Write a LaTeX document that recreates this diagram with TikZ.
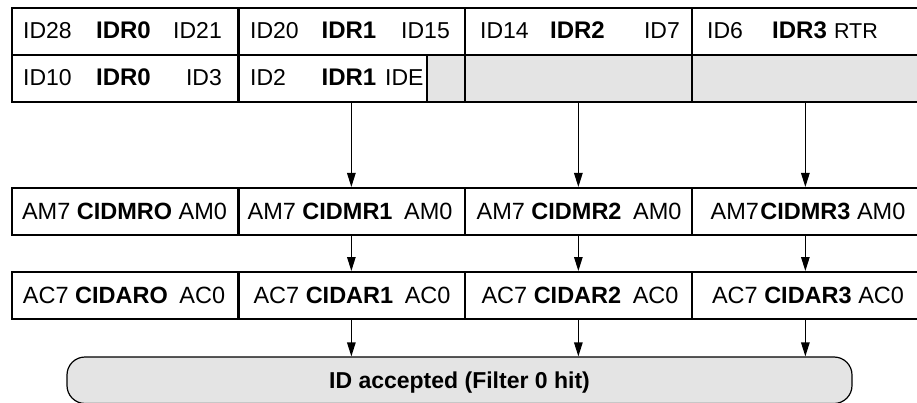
\documentclass[tikz,border=0pt]{standalone}
\usepackage{fontspec}
\setmainfont{Liberation Sans}
\usetikzlibrary{arrows.meta}
\definecolor{cellgrey}{HTML}{E4E4E4}
\begin{document}
\begin{tikzpicture}[x=1pt,y=-1pt,
  cell/.style={draw, line width=1.7pt, minimum width=227pt, minimum height=47pt, inner sep=0pt, anchor=north west},
  greycell/.style={cell, fill=cellgrey},
  txt/.style={inner sep=0pt, font=\fontsize{23}{27}\selectfont},
  btxt/.style={txt, font=\fontsize{24}{28}\selectfont\bfseries, anchor=base},
  ltxt/.style={txt, anchor=base west},
  rtxt/.style={txt, anchor=base east},
  rowtxt/.style={inner sep=0pt, anchor=base, font=\fontsize{23.5}{28}\selectfont},
  flow/.style={line width=1.2pt, -{Triangle[length=14pt,width=8.5pt]}},
  capsule/.style={draw, line width=1.2pt, fill=cellgrey, rounded corners=18pt, minimum width=785pt, minimum height=46.5pt, inner sep=0pt}
]
\useasboundingbox (0,0) rectangle (917,403);

% --- ID register table ---
\node[cell] (r1c1) at (11,7) {};
\node[cell] (r1c2) at (237,7) {};
\node[cell] (r1c3) at (464,7) {};
\node[cell] (r1c4) at (691,7) {};
\node[cell] (r2c1) at (11,54) {};
\node[cell] (r2c2) at (237,54) {};
\node[greycell] (r2c3) at (464,54) {};
\node[greycell] (r2c4) at (691,54) {};

\node[ltxt] (t11a) at (23,38.5) {ID28};
\node[btxt] (t11b) at (123.5,38.5) {IDR0};
\node[rtxt] (t11c) at (222,38.5) {ID21};
\node[ltxt] (t12a) at (250,38.5) {ID20};
\node[btxt] (t12b) at (349,38.5) {IDR1};
\node[rtxt] (t12c) at (450,38.5) {ID15};
\node[ltxt] (t13a) at (480,38.5) {ID14};
\node[btxt] (t13b) at (577.5,38.5) {IDR2};
\node[rtxt] (t13c) at (680,38.5) {ID7};
\node[ltxt] (t14a) at (707,38.5) {ID6};
\node[btxt] (t14b) at (799.5,38.5) {IDR3};
\node[rtxt, font=\fontsize{21.5}{26}\selectfont] (t14c) at (878,38.5) {RTR};

\node[ltxt] (t21a) at (23,85.5) {ID10};
\node[btxt] (t21b) at (123.5,85.5) {IDR0};
\node[rtxt] (t21c) at (222,85.5) {ID3};
\node[ltxt] (t22a) at (250,85.5) {ID2};
\node[btxt] (t22b) at (349,85.5) {IDR1};
\node[ltxt] (t22c) at (385,85.5) {IDE};
\node[draw, line width=1.7pt, fill=cellgrey, minimum width=38pt, minimum height=47pt, inner sep=0pt, anchor=north west] (r2c2g) at (426,54) {};

% --- mask registers ---
\node[cell] (am1) at (11,187) {};
\node[cell] (am2) at (237,187) {};
\node[cell] (am3) at (464,187) {};
\node[cell] (am4) at (691,187) {};
\node[rowtxt] (m1) at (124.5,220) {AM7 \textbf{CIDMRO} AM0};
\node[rowtxt] (m2) at (350,220) {AM7 \textbf{CIDMR1}\kern5pt\ AM0};
\node[rowtxt] (m3) at (579,220) {AM7 \textbf{CIDMR2}\kern5pt\ AM0};
\node[rowtxt] (m4) at (808,220) {AM7\kern1.5pt\textbf{CIDMR3} AM0};

% --- acceptance registers ---
\node[cell] (ac1) at (11,271) {};
\node[cell] (ac2) at (237,271) {};
\node[cell] (ac3) at (464,271) {};
\node[cell] (ac4) at (691,271) {};
\node[rowtxt] (a1) at (124,303) {AC7 \textbf{CIDARO}\kern5pt\ AC0};
\node[rowtxt] (a2) at (352,303) {AC7 \textbf{CIDAR1}\kern5pt\ AC0};
\node[rowtxt] (a3) at (580,303) {AC7 \textbf{CIDAR2}\kern5pt\ AC0};
\node[rowtxt] (a4) at (808,303) {AC7 \textbf{CIDAR3} AC0};

% --- result ---
\node[capsule] (hit) at (459.5,380.25) {};
\node[inner sep=0pt, font=\fontsize{23}{27}\selectfont\bfseries, anchor=base] (hittxt) at (459.5,388) {ID accepted (Filter 0 hit)};

% --- connectors ---
\draw[flow] (r2c2.south) -- (am2.north);
\draw[flow] (r2c3.south) -- (am3.north);
\draw[flow] (r2c4.south) -- (am4.north);
\draw[flow] (am2.south) -- (ac2.north);
\draw[flow] (am3.south) -- (ac3.north);
\draw[flow] (am4.south) -- (ac4.north);
\draw[flow] (ac2.south) -- (ac2.south |- hit.north);
\draw[flow] (ac3.south) -- (ac3.south |- hit.north);
\draw[flow] (ac4.south) -- (ac4.south |- hit.north);
\end{tikzpicture}
\end{document}
